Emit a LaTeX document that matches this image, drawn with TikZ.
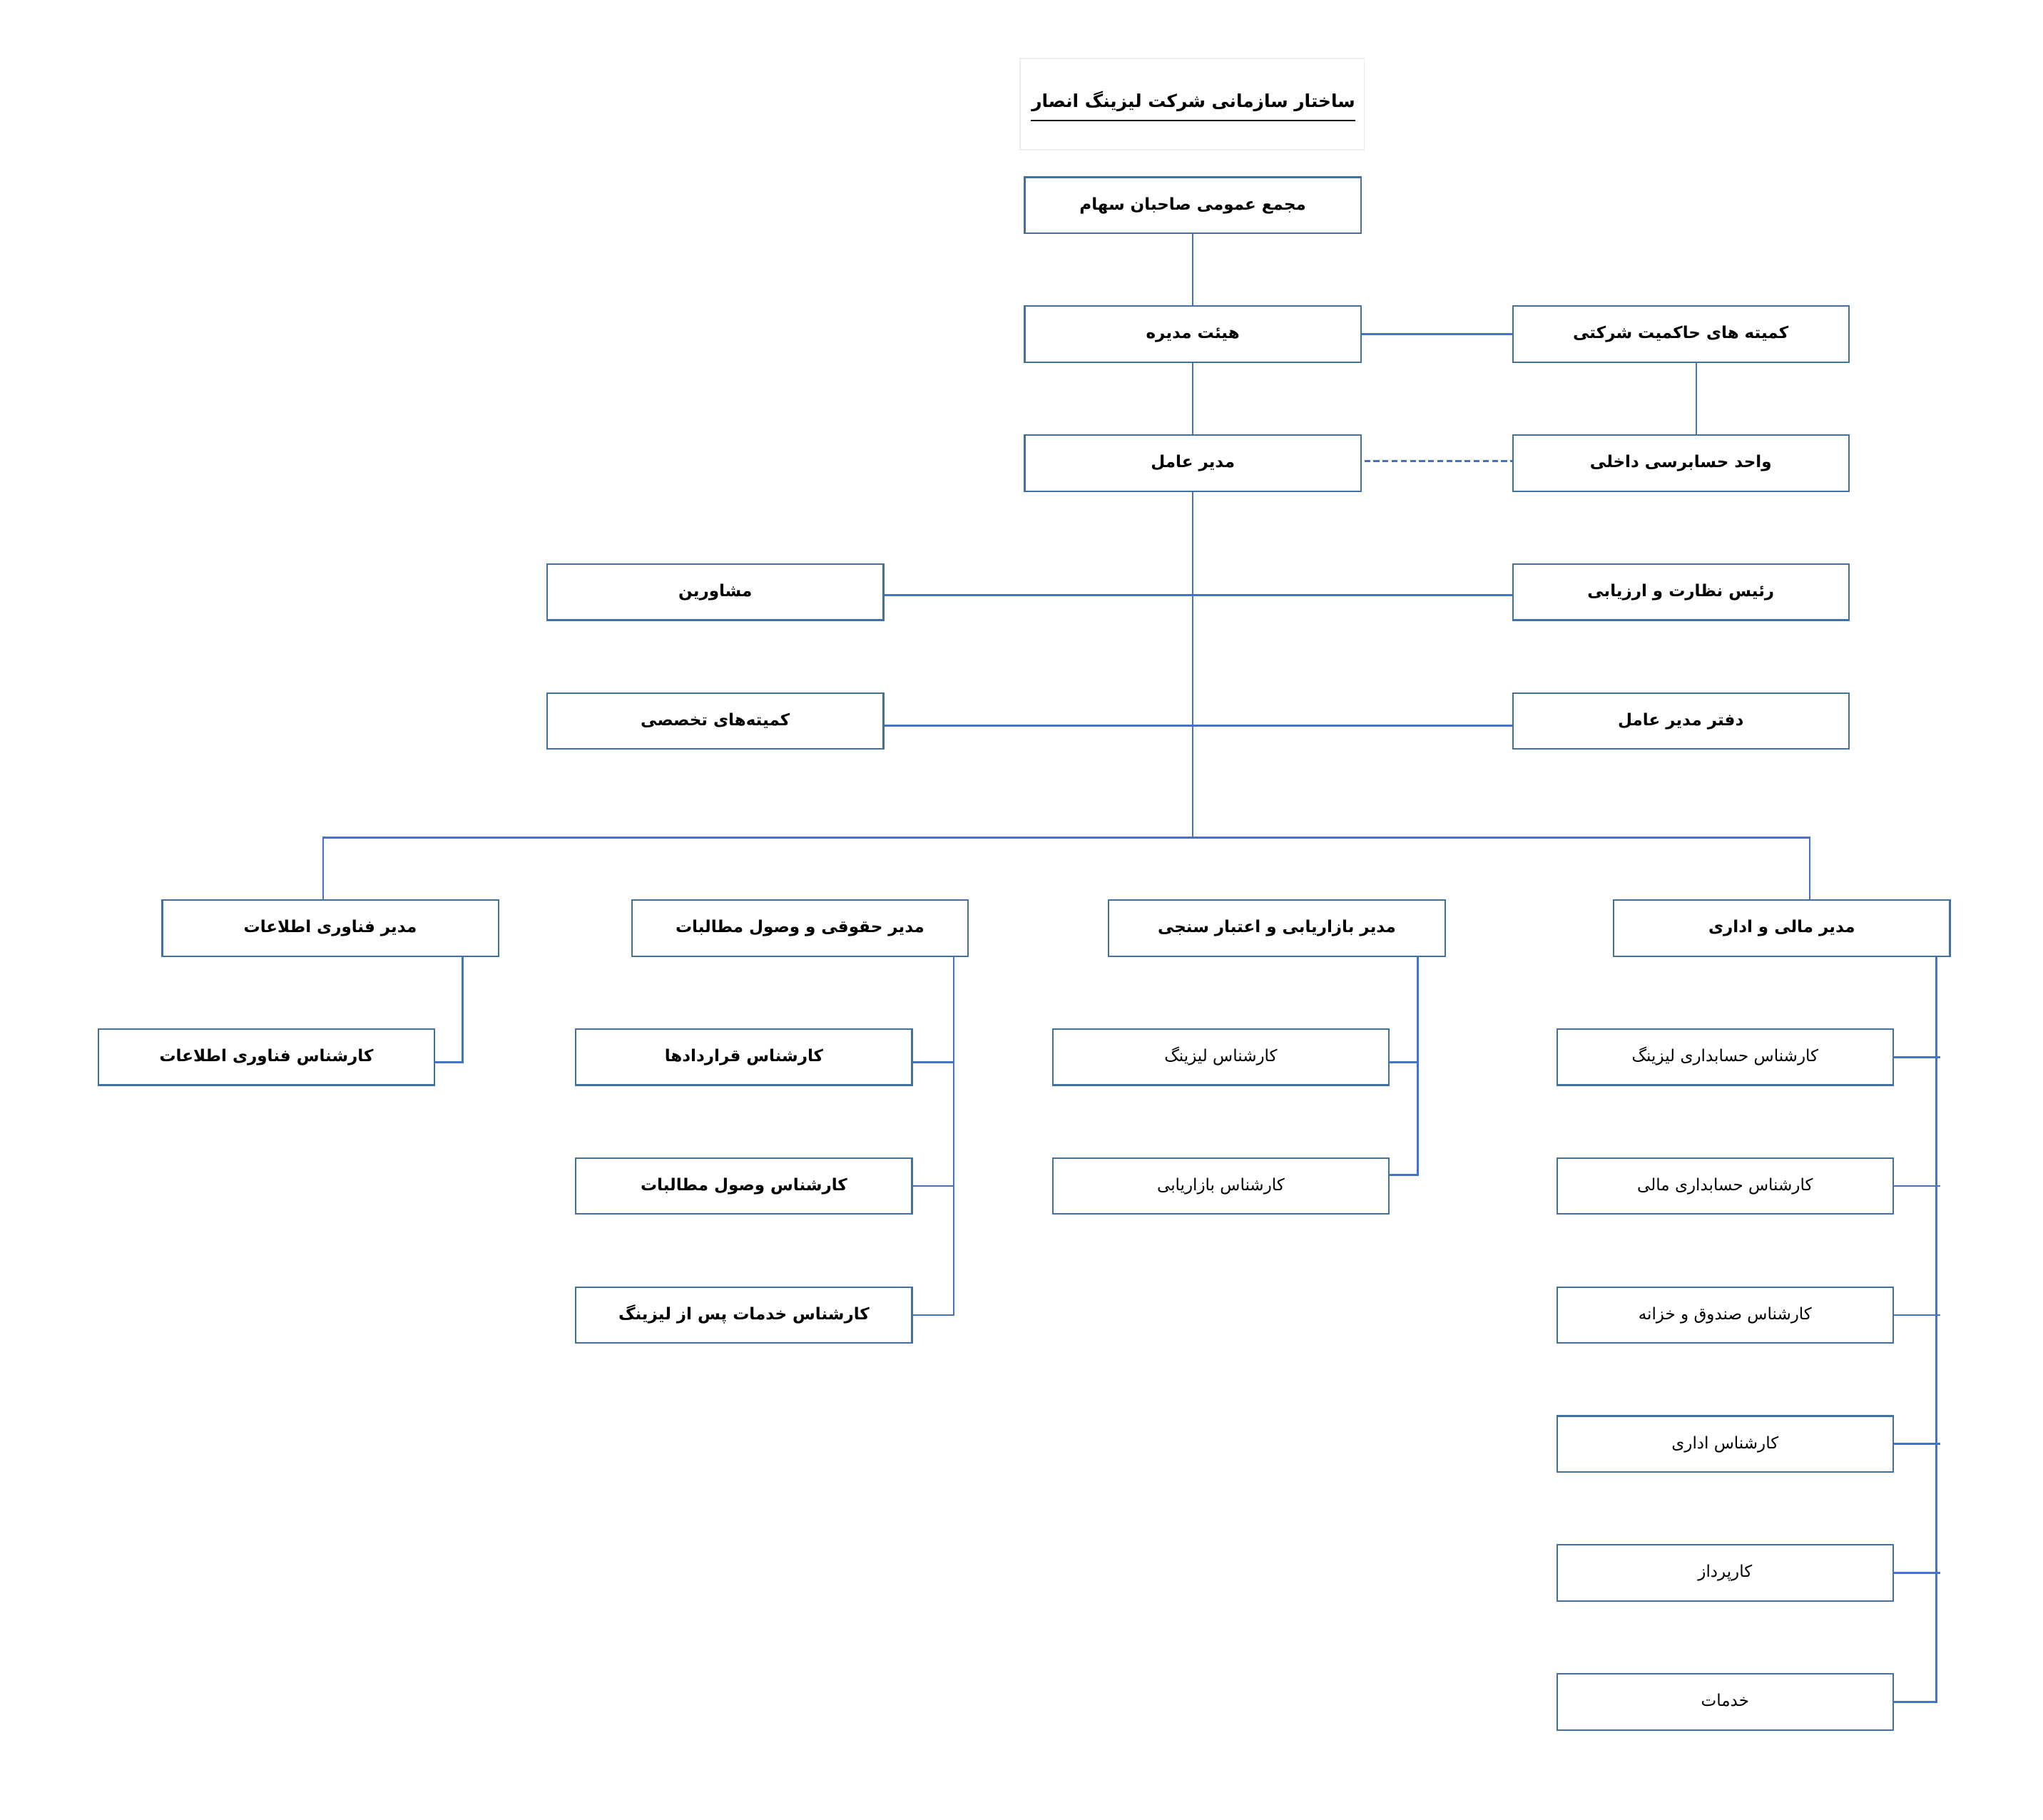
\documentclass[tikz,border=0pt]{standalone}
\usepackage{fontspec}
\TeXXeTstate=1
\newfontfamily\fafont[Script=Arabic]{DejaVu Sans}
\newcommand\fatext[1]{\raisebox{-3.5pt}[0pt][0pt]{\fafont\beginR #1\endR}}
\definecolor{boxc}{RGB}{65,113,156}
\definecolor{linec}{RGB}{68,114,196}
\usetikzlibrary{calc}
\tikzset{
  orgbox/.style={draw=boxc, line width=1.2pt, minimum width=258pt, minimum height=43pt, inner sep=0pt, font=\fontsize{12.6}{15}\selectfont\bfseries},
  lightbox/.style={orgbox, font=\fontsize{12.6}{15}\selectfont},
  conn/.style={draw=linec, line width=1.4pt},
}
\begin{document}
\begin{tikzpicture}[x=1pt,y=-1pt]
\useasboundingbox (0,0) rectangle (1568,1397);
\fill[white] (0,0) rectangle (1568,1397);
% title
\node[draw=black!7, line width=0.8pt, minimum width=264pt, minimum height=70pt, inner sep=0pt] (title) at (915,80) {};
\node[font=\fontsize{13.6}{16}\selectfont\bfseries, inner sep=0pt] (titletext) at (916,79) {\fatext{ساختار سازمانی شرکت لیزینگ انصار}};
\coordinate (ulA) at (791,92.5);
\coordinate (ulB) at (1040,92.5);
\draw[black, line width=0.9pt] (ulA) -- (ulB);
% top chain
\node[orgbox] (gm) at (915.5,157.5) {\fatext{مجمع عمومی صاحبان سهام}};
\node[orgbox] (board) at (915.5,256.5) {\fatext{هیئت مدیره}};
\node[orgbox] (gov) at (1290,256.5) {\fatext{کمیته های حاکمیت شرکتی}};
\node[orgbox] (ceo) at (915.5,355.5) {\fatext{مدیر عامل}};
\node[orgbox] (audit) at (1290,355.5) {\fatext{واحد حسابرسی داخلی}};
\node[orgbox] (adv) at (549,454.5) {\fatext{مشاورین}};
\node[orgbox] (sup) at (1290,454.5) {\fatext{رئیس نظارت و ارزیابی}};
\node[orgbox] (com) at (549,553.5) {\fatext{کمیته‌های تخصصی}};
\node[orgbox] (off) at (1290,553.5) {\fatext{دفتر مدیر عامل}};
% managers
\node[orgbox] (itm) at (253.5,712.5) {\fatext{مدیر فناوری اطلاعات}};
\node[orgbox] (legm) at (614,712.5) {\fatext{مدیر حقوقی و وصول مطالبات}};
\node[orgbox] (mktm) at (980,712.5) {\fatext{مدیر بازاریابی و اعتبار سنجی}};
\node[orgbox] (finm) at (1367.5,712.5) {\fatext{مدیر مالی و اداری}};
% staff
\node[orgbox] (its) at (204.5,811.5) {\fatext{کارشناس فناوری اطلاعات}};
\node[orgbox] (leg1) at (571,811.5) {\fatext{کارشناس قراردادها}};
\node[orgbox] (leg2) at (571,910.5) {\fatext{کارشناس وصول مطالبات}};
\node[orgbox] (leg3) at (571,1009.5) {\fatext{کارشناس خدمات پس از لیزینگ}};
\node[lightbox] (mkt1) at (937,811.5) {\fatext{کارشناس لیزینگ}};
\node[lightbox] (mkt2) at (937,910.5) {\fatext{کارشناس بازاریابی}};
\node[lightbox] (fin1) at (1324,811.5) {\fatext{کارشناس حسابداری لیزینگ}};
\node[lightbox] (fin2) at (1324,910.5) {\fatext{کارشناس حسابداری مالی}};
\node[lightbox] (fin3) at (1324,1009.5) {\fatext{کارشناس صندوق و خزانه}};
\node[lightbox] (fin4) at (1324,1108.5) {\fatext{کارشناس اداری}};
\node[lightbox] (fin5) at (1324,1207.5) {\fatext{کارپرداز}};
\node[lightbox] (fin6) at (1324,1306.5) {\fatext{خدمات}};
% connectors top
\draw[conn] (gm.south) -- (board.north);
\draw[conn] (board.south) -- (ceo.north);
\draw[conn] (board.east) -- (gov.west);
\coordinate (govdrop) at ($(gov.south)+(12,0)$);
\draw[conn] (govdrop) -- (govdrop |- audit.north);
\coordinate (dashA) at ([shift={(2,-1.5)}]ceo.east);
\coordinate (dashB) at ([shift={(0,-1.5)}]audit.west);
\draw[conn, dash pattern=on 4.5pt off 2.5pt] (dashA) -- (dashB);
\coordinate (advin) at ([yshift=-2.5]adv.east);
\coordinate (supin) at ([yshift=-2.5]sup.west);
\draw[conn] (advin) -- (supin);
\coordinate (comin) at ([yshift=-3.5]com.east);
\coordinate (offin) at ([yshift=-3.5]off.west);
\draw[conn] (comin) -- (offin);
% trunk and bus
\coordinate (bus) at (915.5,643);
\draw[conn] (ceo.south) -- (bus);
\coordinate (busL) at (248,643);
\coordinate (busR) at (1389,643);
\draw[conn] (busL |- itm.north) -- (busL) -- (busR) -- (busR |- finm.north);
% IT
\coordinate (itx) at (355,734);
\coordinate (itsin) at ([yshift=-4]its.east);
\draw[conn] (itx |- itm.south) -- (itx |- itsin) -- (itsin);
% legal
\coordinate (legx) at (732,734);
\coordinate (leg1in) at ([yshift=-4]leg1.east);
\draw[conn] (legx |- legm.south) -- (legx |- leg3.east) -- (leg3.east);
\draw[conn] (leg1in) -- (legx |- leg1in);
\draw[conn] (leg2.east) -- (legx |- leg2.east);
% marketing
\coordinate (mktx) at (1088,734);
\coordinate (mkt2in) at ([yshift=8.5]mkt2.east);
\coordinate (mkt1in) at ([yshift=-4]mkt1.east);
\draw[conn] (mktx |- mktm.south) -- (mktx |- mkt2in) -- (mkt2in);
\draw[conn] (mkt1in) -- (mktx |- mkt1in);
% finance
\coordinate (finx) at (1486,734);
\draw[conn] (finx |- finm.south) -- (finx |- fin6.east) -- (fin6.east);
\foreach \k in {1,...,5}{
  \draw[conn] (fin\k.east) -- ([xshift=3]finx |- fin\k.east);
}
\end{tikzpicture}
\end{document}
